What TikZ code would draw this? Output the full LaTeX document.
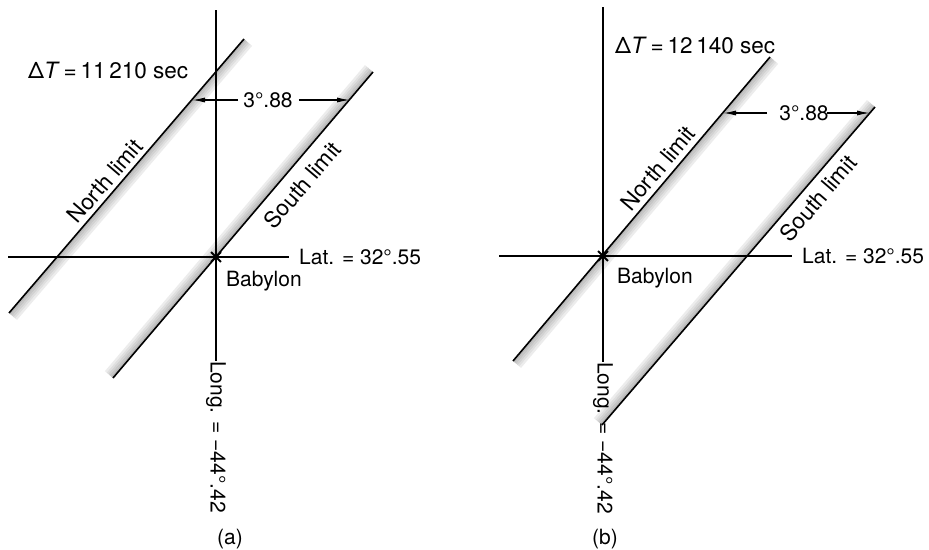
\documentclass[tikz,border=0pt]{standalone}
\usepackage{fontspec}
\setmainfont{TeX Gyre Heros}
\usetikzlibrary{calc,arrows.meta}
\tikzset{
  lbl/.style={font=\fontsize{21}{25}\selectfont, inner sep=0pt},
  rotlbl/.style={font=\fontsize{22.5}{26}\selectfont, inner sep=0pt},
  axisline/.style={line width=1.1pt},
  limline/.style={line width=1.6pt},
  dimarrow/.style={line width=1.2pt, -{Latex[length=13pt,width=5pt]}},
}
\newcommand{\limband}[4]{%
  \foreach \off/\shadec in {1.5pt/55,3.5pt/45,5.5pt/35,7.5pt/25,9.5pt/15}{%
    \draw[line width=2.2pt, gray!\shadec] ($(#1)!\off!#3:(#2)$) -- ($(#2)!\off!#4:(#1)$);}%
  \draw[limline] (#1) -- (#2);}
\newcommand{\babstar}[1]{%
  \foreach \ang in {0,45,90,135}{%
    \draw[line width=1.8pt] ([shift={(\ang:7pt)}]#1) -- ([shift={(\ang:-7pt)}]#1);}}
\begin{document}
\begin{tikzpicture}[x=1pt,y=1pt]
\useasboundingbox (0,0) rectangle (929,-549);
\fill[white] (0,0) rectangle (929,-549);

% ---------------- panel (a) ----------------
\coordinate (BA) at (216,-257);
\coordinate (vtopa) at (216,-10);
\coordinate (hlefta) at (8,-257);
\coordinate (NA1) at (9,-313);
\coordinate (NA2) at (244,-39);
\coordinate (SA1) at (113,-378);
\coordinate (SA2) at (373,-72);
\coordinate (tipNA) at (192,-100);
\coordinate (tipSA) at (350,-100);

\limband{NA1}{NA2}{-90}{90}
\limband{SA1}{SA2}{90}{-90}

\node[lbl, rotate=-90, anchor=west] (longa) at (216,-361) {Long. = −44°.42};
\node[lbl, anchor=west] (lata) at (299,-257) {Lat. = 32°.55};
\draw[axisline] (vtopa) -- (longa.west);
\draw[axisline] (hlefta) -- ([xshift=-10pt]lata.west);
\babstar{BA}

\node[lbl] (dimA) at (268,-100) {3°.88};
\draw[dimarrow] ([xshift=-5pt]dimA.west) -- (tipNA);
\draw[dimarrow] ([xshift=6pt]dimA.east) -- (tipSA);

\node[rotlbl, anchor=west] (dTa) at (28,-70) {Δ\textit{T}\,=\,11\,210 sec};
\node[rotlbl, rotate=49.4] (northa) at (105,-181) {North limit};
\node[rotlbl, rotate=49.5] (southa) at (302,-185) {South limit};
\node[lbl, anchor=west] (baba) at (226,-281) {Babylon};
\node[lbl] (capa) at (230,-539) {(a)};

% ---------------- panel (b) ----------------
\coordinate (BB) at (603,-256);
\coordinate (vtopb) at (603,-7);
\coordinate (hleftb) at (499,-256);
\coordinate (NB1) at (513,-361);
\coordinate (NB2) at (770,-57);
\coordinate (SB1) at (602,-425);
\coordinate (SB2) at (875,-107);
\coordinate (tipNB) at (723,-113);
\coordinate (tipSB) at (870,-113);

\limband{NB1}{NB2}{-90}{90}
\limband{SB1}{SB2}{90}{-90}

\node[lbl, rotate=-90, anchor=west] (longb) at (603,-362) {Long. = −44°.42};
\node[lbl, anchor=west] (latb) at (802,-256) {Lat. = 32°.55};
\draw[axisline] (vtopb) -- (longb.west);
\draw[axisline] (hleftb) -- ([xshift=-10pt]latb.west);
\babstar{BB}

\node[lbl] (dimB) at (804,-113) {3°.88};
\draw[dimarrow] ([xshift=-12pt]dimB.west) -- (tipNB);
\draw[dimarrow] ([xshift=-2pt]dimB.east) -- (tipSB);

\node[rotlbl, anchor=west] (dTb) at (615,-45) {Δ\textit{T}\,=\,12\,140 sec};
\node[rotlbl, rotate=49.8] (northb) at (658,-168) {North limit};
\node[rotlbl, rotate=49.4] (southb) at (818,-198) {South limit};
\node[lbl, anchor=west] (babb) at (617,-278) {Babylon};
\node[lbl] (capb) at (605,-539) {(b)};
\end{tikzpicture}
\end{document}
